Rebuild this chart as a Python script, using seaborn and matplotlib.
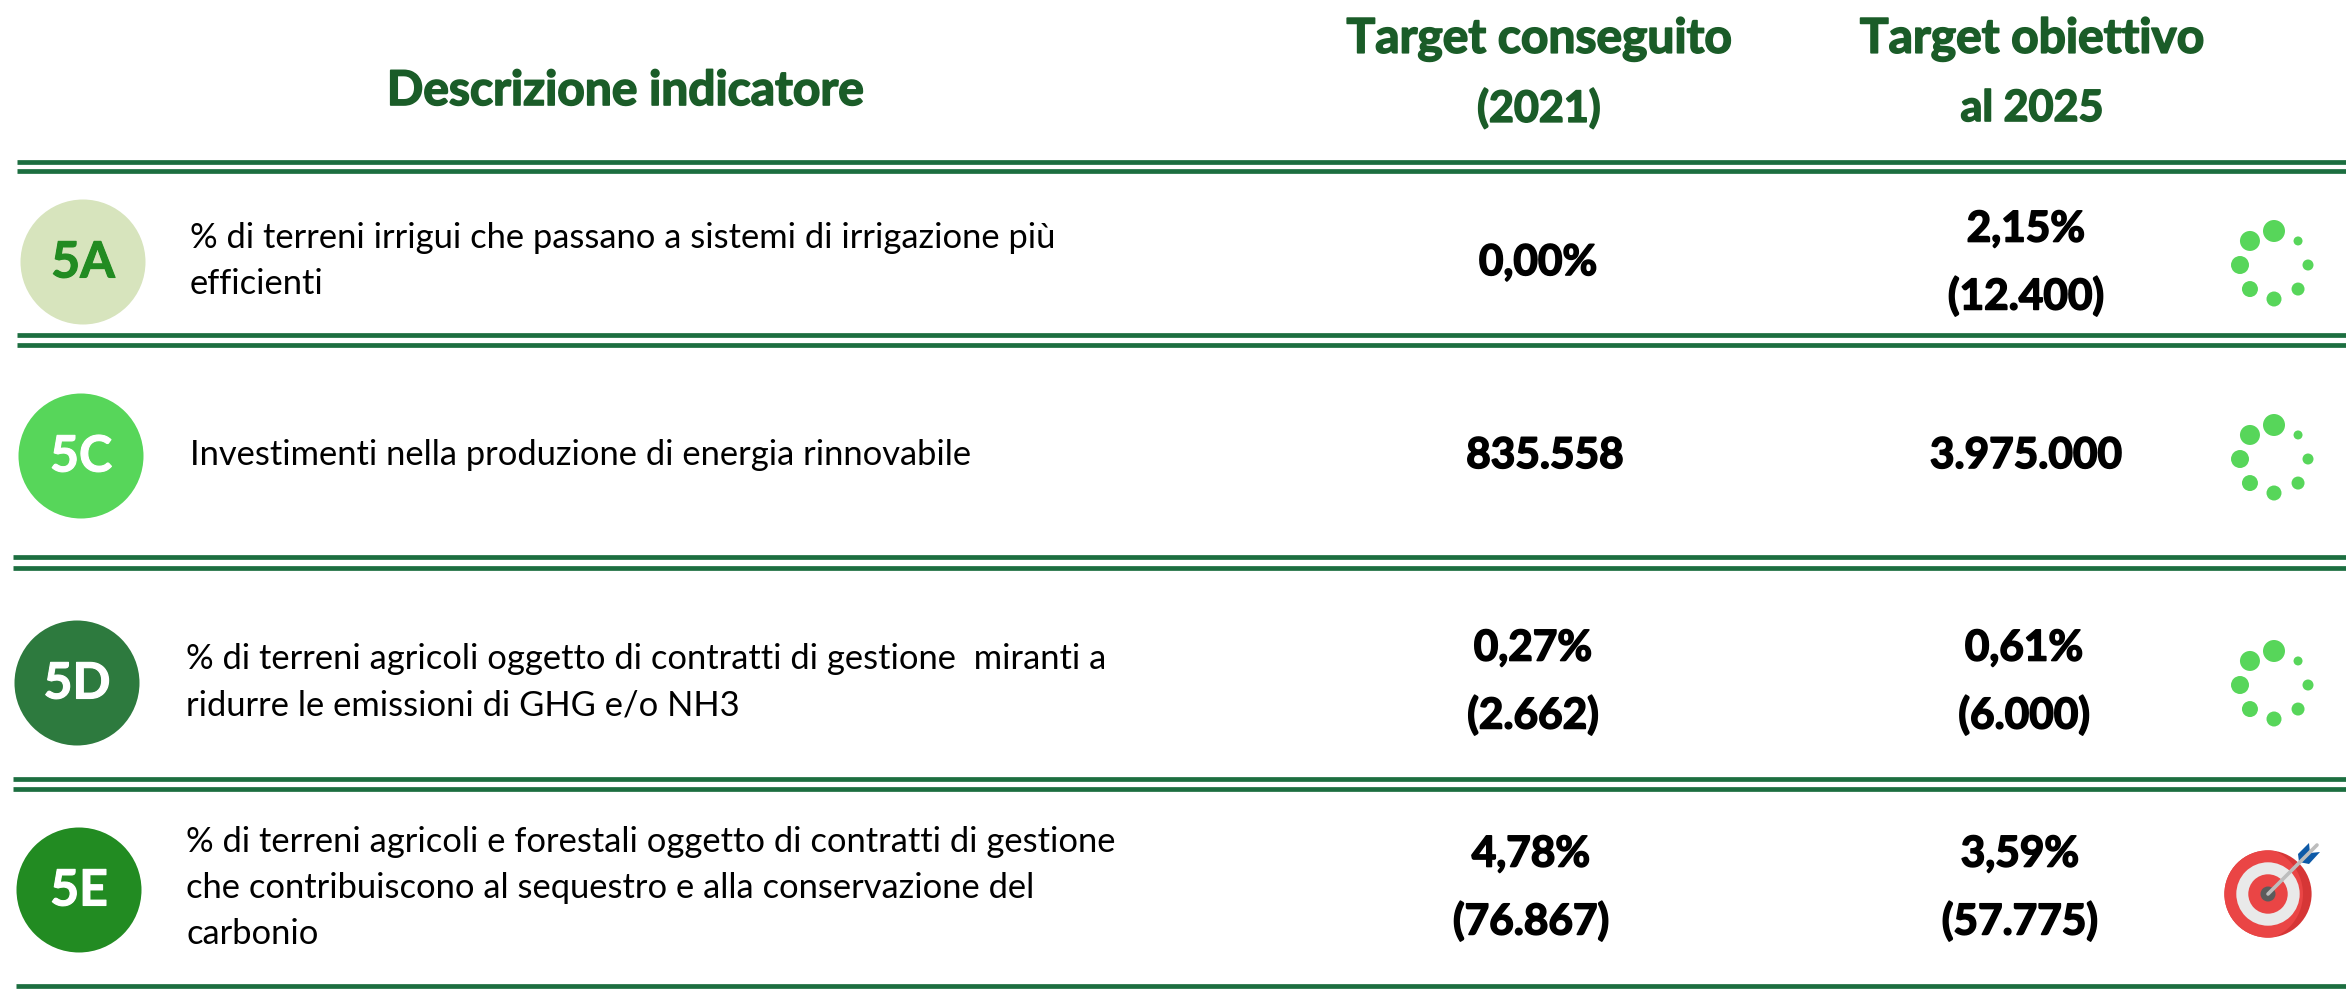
import numpy as np
import pandas as pd
import matplotlib
matplotlib.use('Agg')
import matplotlib.pyplot as plt
import matplotlib.patheffects as pe
from matplotlib.patches import Circle, Polygon
import seaborn as sns

# chart content
codes = ['5A', '5C', '5D', '5E']
descriptions = [
    '% di terreni irrigui che passano a sistemi di irrigazione più\nefficienti',
    'Investimenti nella produzione di energia rinnovabile',
    '% di terreni agricoli oggetto di contratti di gestione  miranti a\nridurre le emissioni di GHG e/o NH3',
    '% di terreni agricoli e forestali oggetto di contratti di gestione\nche contribuiscono al sequestro e alla conservazione del\ncarbonio',
]
achieved = [['0,00%'], ['835.558'], ['0,27%', '(2.662)'], ['4,78%', '(76.867)']]
targets = [['2,15%', '(12.400)'], ['3.975.000'], ['0,61%', '(6.000)'], ['3,59%', '(57.775)']]
status = ['loading', 'loading', 'loading', 'reached']
headers = ['Descrizione indicatore', 'Target conseguito\n(2021)', 'Target obiettivo\nal 2025']

# layout, in pixels of the final picture
W, H = 2346, 989
badge_fill = ['#d7e4bd', '#57d65a', '#2d7a3e', '#228b22']
badge_text = ['#228b22', 'white', 'white', 'white']
badge_x = [83, 81, 77, 79]
badge_y = [262, 456, 683, 890]
desc_x = [190, 190, 186, 186]
desc_y = [261, 455, 682, 888]
ach_x = [1538, 1545, 1533, 1531]
tgt_x = [2026, 2026, 2024, 2020]
val_y = [263, 456, 682, 888]
val_gap = [67, 0, 67, 67]
spinner_y = [265, 459, 685]
rules = [162, 171, 335, 345, 557, 568, 779, 789, 986]
rule_start = [17, 17, 17, 17, 13, 13, 13, 13, 16]
GREEN = '#1a5c28'
RULE = '#1c6e40'
BODY_FONT = 'Lato'
HEAD_FONT = 'Lato'

def px2size(d):
    # scatter size for a marker of d pixels across
    return (d * 72 / 100) ** 2

def heavy(ax, x, y, s, size, color, width=1.2, zorder=4):
    # Lato tops out at bold here, a thin outline gets it closer to the original weight
    t = ax.text(x, y, s, ha='center', va='center', fontsize=size, fontweight='bold', color=color,
                family=HEAD_FONT, zorder=zorder)
    t.set_path_effects([pe.withStroke(linewidth=width, foreground=color)])
    return t

def draw_spinner(ax, cx, cy):
    angles = np.deg2rad([90, 135, 180, 225, 270, 315, 0, 45])
    sizes = [22, 20, 18, 16, 15, 13, 11, 9]
    pts = pd.DataFrame({'x': cx + 34 * np.cos(angles), 'y': cy - 34 * np.sin(angles), 's': [px2size(d) for d in sizes]})
    sns.scatterplot(data=pts, x='x', y='y', s=pts['s'].values, color='#57d65a', linewidth=0, ax=ax, legend=False, zorder=3)

def draw_target(ax, cx, cy):
    back = Circle((cx, cy), 43.6, color='#d63636', lw=0, zorder=3)
    ax.add_patch(back)
    front = Circle((cx - 12, cy), 47, color='#ea4545', lw=0, zorder=3.1)
    ax.add_patch(front)
    front.set_clip_path(back)
    ax.add_patch(Circle((cx, cy), 31.7, color='#e9e9e9', lw=0, zorder=3.2))
    ax.add_patch(Circle((cx, cy), 19.7, color='#ea4545', lw=0, zorder=3.3))
    ax.add_patch(Circle((cx, cy), 7.5, color='#5b5b5b', lw=0, zorder=3.4))
    ax.plot([cx, cx + 49], [cy, cy - 49], color='#bdbdbd', lw=2.6, zorder=3.6, solid_capstyle='round')
    ax.add_patch(Polygon([(cx + 30, cy - 40), (cx + 41, cy - 51), (cx + 42, cy - 41), (cx + 52, cy - 42),
                          (cx + 41, cy - 30), (cx + 31, cy - 32)], color='#0e5aa7', lw=0, zorder=3.5))

sns.set_theme(style='white')
plt.rcParams['font.family'] = [BODY_FONT, 'DejaVu Sans']

fig = plt.figure(figsize=(W / 100, H / 100), dpi=100)
ax = fig.add_axes([0, 0, 1, 1])

# badges
badges = pd.DataFrame({'code': codes, 'x': badge_x, 'y': badge_y})
sns.scatterplot(data=badges, x='x', y='y', hue='code', palette=badge_fill, s=px2size(125),
                linewidth=0, legend=False, ax=ax, zorder=2)
ax.set_xlim(0, W)
ax.set_ylim(H, 0)
ax.axis('off')

# double rules between rows
ax.hlines(rules, rule_start, W, color=RULE, lw=3.4, zorder=1)

# column headers
heavy(ax, 625, 91, headers[0], 34.5, GREEN)
for x, head in zip([1539, 2032], headers[1:]):
    line1, line2 = head.split('\n')
    heavy(ax, x, 39, line1, 34.5, GREEN)
    heavy(ax, x, 108, line2, 31, GREEN)

for i, code in enumerate(codes):
    heavy(ax, badge_x[i], badge_y[i] + 1, code, 36, badge_text[i], width=0.8)
    ax.text(desc_x[i], desc_y[i], descriptions[i], ha='left', va='center', fontsize=24.8, color='black',
            linespacing=1.54, family=BODY_FONT)
    for x, vals in zip([ach_x[i], tgt_x[i]], [achieved[i], targets[i]]):
        if len(vals) == 1:
            heavy(ax, x, val_y[i], vals[0], 30.5, 'black')
        else:
            heavy(ax, x, val_y[i] - val_gap[i] / 2, vals[0], 30.5, 'black')
            heavy(ax, x, val_y[i] + val_gap[i] / 2, vals[1], 30.5, 'black')
    if status[i] == 'loading':
        draw_spinner(ax, 2274, spinner_y[i])
    else:
        draw_target(ax, 2268, 894)

ax.set_xlim(0, W)
ax.set_ylim(H, 0)
fig.savefig('out.png', dpi=100, facecolor='white')
